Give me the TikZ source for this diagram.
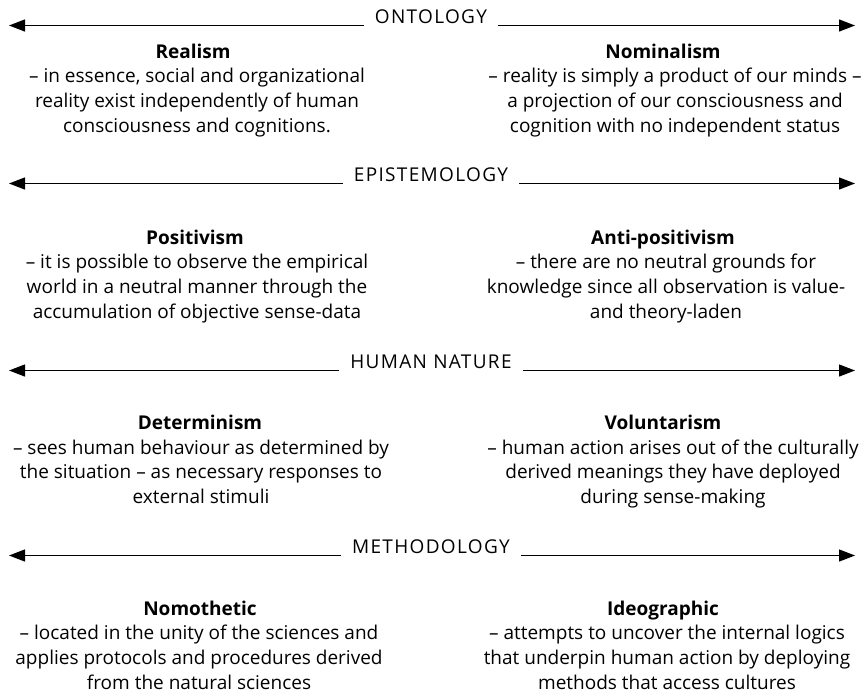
\documentclass[tikz,border=0pt]{standalone}
\usepackage{fontspec}
\setmainfont{Open Sans}
\usetikzlibrary{arrows.meta}
\begin{document}
\begin{tikzpicture}[x=1pt,y=-1pt,
  body/.style={font=\fontsize{19}{24.6}\selectfont, align=center, inner sep=0pt, anchor=base},
  ttl/.style={font=\fontsize{19}{24.6}\selectfont\bfseries, inner sep=0pt, anchor=base},
  axislbl/.style={font=\fontsize{19}{24.6}\selectfont\addfontfeature{LetterSpace=7}, inner xsep=11pt, inner ysep=0pt, anchor=base},
  arr/.style={line width=1.3pt, -{Triangle[length=16pt,width=12pt]}}]
\useasboundingbox (0,0) rectangle (867,699);

% axes
\foreach \nm/\txt/\by in {ont/ONTOLOGY/23, epi/EPISTEMOLOGY/181, hum/HUMAN NATURE/368, met/METHODOLOGY/553}{
  \node[axislbl] (\nm) at (431,\by) {\txt};
  \coordinate (\nm L) at (9,\by+2.5);
  \coordinate (\nm R) at (855,\by+2.5);
  \draw[arr] (\nm.west |- \nm L) -- (\nm L);
  \draw[arr] (\nm.east |- \nm R) -- (\nm R);
}

% Ontology
\node[ttl] (realT) at (193,58) {Realism};
\node[body] (realB) at (197,132) {– in essence, social and organizational\\reality exist independently of human\\consciousness and cognitions.};
\node[ttl] (nomT) at (663,58) {Nominalism};
\node[body] (nomB) at (675,132) {– reality is simply a product of our minds –\\a projection of our consciousness and\\cognition with no independent status};

% Epistemology
\node[ttl] (posT) at (195,244) {Positivism};
\node[body] (posB) at (197,318) {– it is possible to observe the empirical\\world in a neutral manner through the\\accumulation of objective sense-data};
\node[ttl] (antT) at (663,244) {Anti-positivism};
\node[body] (antB) at (666,318) {– there are no neutral grounds for\\knowledge since all observation is value-\\and theory-laden};

% Human nature
\node[ttl] (detT) at (200,429) {Determinism};
\node[body] (detB) at (201,503.5) {– sees human behaviour as determined by\\the situation – as necessary responses to\\external stimuli};
\node[ttl] (volT) at (663,429) {Voluntarism};
\node[body] (volB) at (673,503.5) {– human action arises out of the culturally\\derived meanings they have deployed\\during sense-making};

% Methodology
\node[ttl] (nmtT) at (200,615) {Nomothetic};
\node[body] (nmtB) at (199,689) {– located in the unity of the sciences and\\applies protocols and procedures derived\\from the natural sciences};
\node[ttl] (idgT) at (663,615) {Ideographic};
\node[body] (idgB) at (667,689) {– attempts to uncover the internal logics\\that underpin human action by deploying\\methods that access cultures};
\end{tikzpicture}
\end{document}
